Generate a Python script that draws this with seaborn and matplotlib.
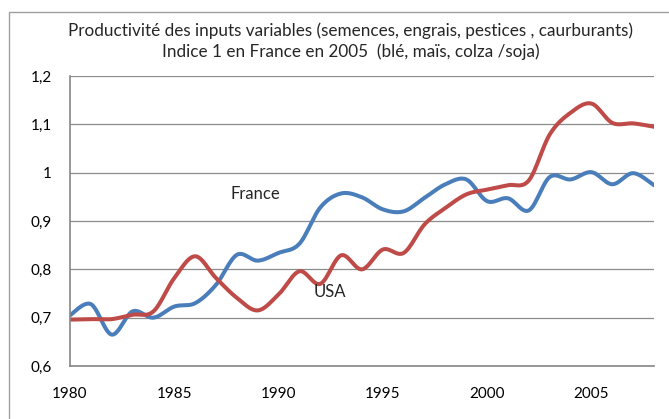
"""Productivité des inputs variables, France vs USA (Excel-style smoothed lines)."""

import matplotlib

matplotlib.use("Agg")
import matplotlib.pyplot as plt
import numpy as np
import pandas as pd
import seaborn as sns
from matplotlib.patches import Rectangle
from matplotlib.ticker import FuncFormatter

YEARS = list(range(1980, 2009))
FRANCE = [0.705, 0.728, 0.665, 0.713, 0.700, 0.723, 0.730, 0.768, 0.830, 0.818,
          0.834, 0.853, 0.928, 0.957, 0.949, 0.924, 0.920, 0.948, 0.976, 0.986,
          0.941, 0.947, 0.922, 0.991, 0.986, 1.001, 0.976, 0.999, 0.974]
USA = [0.696, 0.697, 0.697, 0.706, 0.713, 0.782, 0.827, 0.782, 0.741, 0.715,
       0.748, 0.796, 0.770, 0.829, 0.800, 0.841, 0.834, 0.893, 0.927, 0.955,
       0.965, 0.974, 0.984, 1.079, 1.124, 1.143, 1.103, 1.102, 1.095]
SERIES = {"France": FRANCE, "USA": USA}
COLORS = {"France": "#4A7EBB", "USA": "#BE4B48"}
X_TICKS = [1980, 1985, 1990, 1995, 2000, 2005]
Y_TICKS = [0.6, 0.7, 0.8, 0.9, 1.0, 1.1, 1.2]
TITLE = ("Productivité des inputs variables (semences, engrais, pestices , caurburants)\n"
         "Indice 1 en France en 2005  (blé, maïs, colza /soja)")


def catmull_rom(x, y, steps=24):
    """Excel-like smoothing through every data point."""
    pts = np.column_stack([x, y]).astype(float)
    pts = np.vstack([pts[0], pts, pts[-1]])
    out = []
    t = np.linspace(0, 1, steps, endpoint=False)[:, None]
    for i in range(1, len(pts) - 2):
        p0, p1, p2, p3 = pts[i - 1], pts[i], pts[i + 1], pts[i + 2]
        seg = 0.5 * ((2 * p1) + (-p0 + p2) * t + (2 * p0 - 5 * p1 + 4 * p2 - p3) * t ** 2
                     + (-p0 + 3 * p1 - 3 * p2 + p3) * t ** 3)
        out.append(seg)
    out.append(pts[-2][None, :])
    out = np.vstack(out)
    return out[:, 0], out[:, 1]


def main() -> None:
    sns.set_style("white")
    plt.rcParams["font.family"] = ["Lato", "DejaVu Sans"]

    frames = []
    for name, values in SERIES.items():
        xs, ys = catmull_rom(YEARS, values)
        frames.append(pd.DataFrame({"year": xs, "value": ys, "pays": name}))
    df = pd.concat(frames, ignore_index=True)

    fig = plt.figure(figsize=(6.69, 4.19), dpi=100)
    ax = fig.add_axes([70 / 669, 1 - 366 / 419, 584 / 669, 290 / 419])

    ax.set_axisbelow(True)
    sns.lineplot(data=df, x="year", y="value", hue="pays", palette=COLORS,
                 estimator=None, sort=False, linewidth=2.9, legend=False, ax=ax)

    ax.set_xlim(1980, 2008)
    ax.set_ylim(0.6, 1.2)
    ax.set_xticks(X_TICKS)
    ax.set_yticks(Y_TICKS)
    ax.yaxis.set_major_formatter(FuncFormatter(lambda v, _: f"{v:g}".replace(".", ",")))
    ax.set_xlabel("")
    ax.set_ylabel("")
    ax.grid(axis="y", color="#8c8c8c", linewidth=0.9)
    for side in ("top", "right"):
        ax.spines[side].set_visible(False)
    for side in ("left", "bottom"):
        ax.spines[side].set_color("#868686")
        ax.spines[side].set_linewidth(1.2)
    ax.tick_params(direction="out", length=5, width=1, color="#868686",
                   labelsize=11, labelcolor="black")
    ax.tick_params(axis="x", pad=10)
    ax.tick_params(axis="y", pad=8)

    ax.text(1988.9, 0.956, "France", fontsize=12, ha="center", va="center")
    ax.text(1992.45, 0.754, "USA", fontsize=12, ha="center", va="center")

    fig.text(351 / 669, 1 - 41 / 419, TITLE, fontsize=12.3, ha="center", va="center",
             linespacing=1.3)

    fig.patches.append(Rectangle((9 / 669, -0.1), 1.2, 1.1 - 12 / 419,
                                 transform=fig.transFigure, fill=False,
                                 edgecolor="#a0a0a0", linewidth=1))

    fig.savefig("out.png", dpi=100)
    plt.close(fig)


if __name__ == "__main__":
    main()
